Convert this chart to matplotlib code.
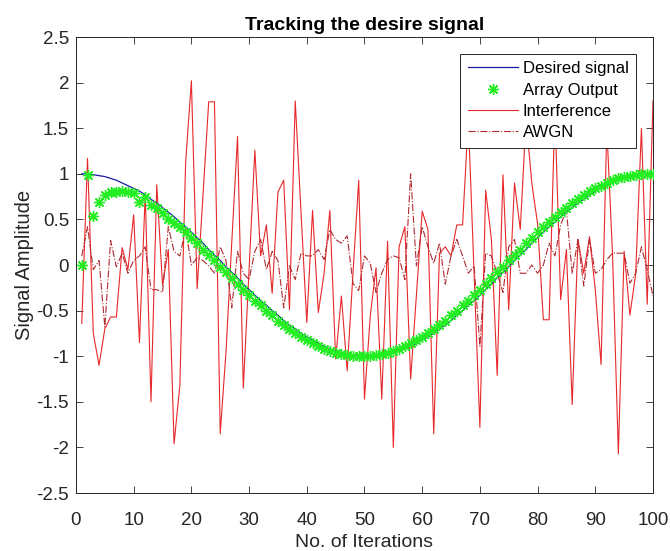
import matplotlib
matplotlib.use("Agg")
import matplotlib.pyplot as plt
import numpy as np

plt.rcParams['font.family'] = ['Liberation Sans', 'DejaVu Sans']

iterations = list(range(1, 101))

# desired signal (one period over 100 iterations)
desired = [1.00, 1.00, 0.99, 0.98, 0.97, 0.95, 0.93, 0.90, 0.87, 0.84,
           0.81, 0.77, 0.72, 0.68, 0.63, 0.58, 0.53, 0.47, 0.42, 0.36,
           0.30, 0.24, 0.17, 0.11, 0.05, -0.02, -0.08, -0.14, -0.21, -0.27,
           -0.33, -0.39, -0.44, -0.50, -0.55, -0.61, -0.66, -0.70, -0.75, -0.79,
           -0.82, -0.86, -0.89, -0.92, -0.94, -0.96, -0.98, -0.99, -1.00, -1.00,
           -1.00, -1.00, -0.99, -0.98, -0.96, -0.94, -0.92, -0.89, -0.86, -0.82,
           -0.79, -0.75, -0.70, -0.66, -0.61, -0.55, -0.50, -0.44, -0.39, -0.33,
           -0.27, -0.21, -0.14, -0.08, -0.02, 0.05, 0.11, 0.17, 0.24, 0.30,
           0.36, 0.42, 0.47, 0.53, 0.58, 0.63, 0.68, 0.72, 0.77, 0.81,
           0.84, 0.87, 0.90, 0.93, 0.95, 0.97, 0.98, 0.99, 1.00, 1.00]

# beamformer output (green asterisks), converges after ~18 iterations
array_out = [0.00, 0.99, 0.54, 0.69, 0.77, 0.80, 0.80, 0.81, 0.80, 0.79,
             0.69, 0.75, 0.66, 0.62, 0.57, 0.51, 0.46, 0.42, 0.36, 0.30,
             0.24, 0.17, 0.11, 0.05, -0.02, -0.08, -0.14, -0.21, -0.27, -0.33,
             -0.39, -0.44, -0.50, -0.55, -0.61, -0.66, -0.70, -0.75, -0.79, -0.82,
             -0.86, -0.89, -0.92, -0.94, -0.96, -0.98, -0.99, -1.00, -1.00, -1.00,
             -1.00, -0.99, -0.98, -0.96, -0.94, -0.92, -0.89, -0.86, -0.82, -0.79,
             -0.75, -0.70, -0.66, -0.61, -0.55, -0.50, -0.44, -0.39, -0.33, -0.27,
             -0.21, -0.14, -0.08, -0.02, 0.05, 0.11, 0.17, 0.24, 0.30, 0.36,
             0.42, 0.47, 0.53, 0.58, 0.63, 0.68, 0.72, 0.77, 0.81, 0.84,
             0.87, 0.90, 0.93, 0.95, 0.97, 0.98, 0.99, 1.00, 1.00, 1.00]

interference = [-0.64, 1.17, -0.75, -1.10, -0.70, -0.57, -0.57, 0.19, -0.05, 0.55,
                -0.85, 0.78, -1.50, 0.88, -0.22, 0.17, -1.96, -1.32, 1.12, 2.02,
                -0.26, 0.75, 1.79, 1.79, -1.85, -0.95, 0.25, 1.41, -1.35, -0.05,
                1.26, 0.10, 0.44, -0.31, 0.80, 0.93, -0.49, 1.80, 0.58, -0.63,
                0.60, -0.52, -0.09, 0.60, -1.03, -0.34, -1.16, -0.10, 0.93, -1.47,
                -0.56, -0.03, -1.47, 0.26, -2.00, 0.20, 0.42, -1.25, -0.33, 0.59,
                0.39, -1.85, 0.13, 0.20, 0.10, 0.44, 0.44, 1.60, -0.10, -1.78,
                0.82, 0.28, -1.21, 0.99, -0.49, 0.90, 0.39, 1.60, 0.90, 0.45,
                -0.60, -0.60, 1.70, -0.38, 0.17, -1.53, 0.28, -0.09, 0.31, -0.27,
                -1.09, 1.50, 0.10, -2.07, 0.15, -0.55, -0.10, 1.50, -0.43, 1.80]

awgn = [0.10, 0.42, -0.05, 0.05, -0.68, 0.27, -0.02, 0.13, -0.09, 0.05,
        0.10, 0.20, -0.27, -0.27, -0.30, 0.42, 0.15, 0.10, 0.40, 0.00,
        0.08, 0.05, -0.01, -0.09, 0.20, 0.05, -0.47, 0.15, -0.09, -0.16,
        0.15, 0.28, -0.05, 0.15, 0.05, -0.47, -0.01, -0.16, 0.13, 0.10,
        0.10, 0.17, 0.06, 0.39, 0.28, 0.24, 0.32, -0.20, -0.28, 0.10,
        0.02, -0.30, -0.09, 0.06, 0.10, 0.08, -0.16, 1.00, -0.01, 0.42,
        0.20, 0.02, 0.24, -0.21, 0.10, 0.28, 0.10, -0.09, -0.01, -0.89,
        0.13, 0.10, -0.09, -0.30, 0.20, 0.28, -0.09, -0.09, 0.00, -0.09,
        0.00, 0.24, 0.10, 0.44, 0.60, -0.09, 0.28, -0.23, 0.28, -0.09,
        -0.05, 0.06, 0.13, 0.13, 0.13, -0.20, -0.09, 0.20, -0.05, -0.34]

fig = plt.figure(figsize=(6.7, 5.51), dpi=100)
ax = fig.add_axes([0.1134, 0.1052, 0.8612, 0.8276])

ax.plot(iterations, desired, color='#1a1aa6', lw=0.9, label='Desired signal', zorder=3)
ax.plot(iterations, array_out, ls='none', marker=(8, 2, 0), ms=8, mew=1.0,
        color='#22ee22', label='Array Output', zorder=4)
ax.plot(iterations, interference, color='#e8282a', lw=0.8, label='Interference', zorder=2)
ax.plot(iterations, awgn, color='#b02a30', lw=0.8, ls='-.', label='AWGN', zorder=2)

ax.set_xlim(0, 100)
ax.set_ylim(-2.5, 2.5)
ax.set_xticks(np.arange(0, 101, 10))
ax.set_yticks(np.arange(-2.5, 2.51, 0.5))
ax.set_yticklabels(['-2.5', '-2', '-1.5', '-1', '-0.5', '0', '0.5', '1', '1.5', '2', '2.5'])
ax.tick_params(direction='in', top=True, right=True, length=5, width=0.6,
               labelsize=13.5, labelcolor='#262626', color='#262626')
ax.tick_params(axis='x', pad=14)
ax.tick_params(axis='y', pad=5)
for s in ax.spines.values():
    s.set_linewidth(0.7)
    s.set_color('#262626')

ax.set_title('Tracking the desire signal', fontsize=14, fontweight='bold', pad=5)
ax.set_xlabel('No. of Iterations', fontsize=14, color='#262626', labelpad=3)
ax.set_ylabel('Signal Amplitude', fontsize=14.5, color='#262626', labelpad=2)

leg = ax.legend(loc='upper right', fontsize=12, fancybox=False, framealpha=1,
                edgecolor='#262626', borderaxespad=1.0, handlelength=3.0,
                handletextpad=0.3, borderpad=0.45, labelspacing=0.38)
leg.get_frame().set_linewidth(0.7)
leg.set_zorder(10)

fig.savefig('out.png', dpi=100)
